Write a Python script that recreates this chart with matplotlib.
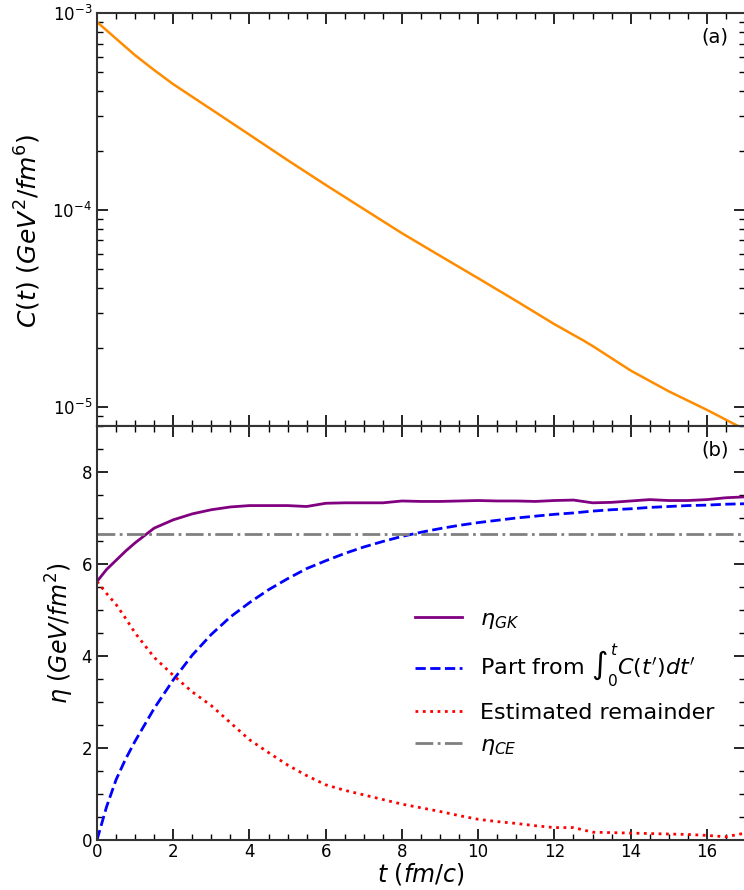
import numpy as np
import matplotlib
matplotlib.use("Agg")
from matplotlib import pyplot as plt
from matplotlib.ticker import MultipleLocator, LogLocator, NullFormatter

# correlator C(t)
t_c = [0, 0.5, 1, 1.5, 2, 3, 4, 5, 6, 7, 8, 9, 10, 11, 12, 12.75, 13, 14, 15, 16, 17]
corr = [9.0e-4, 7.41e-4, 6.1e-4, 5.13e-4, 4.35e-4, 3.24e-4, 2.41e-4, 1.79e-4,
        1.34e-4, 1.01e-4, 7.62e-5, 5.85e-5, 4.50e-5, 3.45e-5, 2.63e-5, 2.18e-5,
        2.04e-5, 1.53e-5, 1.20e-5, 9.66e-6, 7.67e-6]

# viscosity curves, panel (b)
t_eta = [0, 0.25, 0.5, 0.75, 1, 1.5, 2, 2.5, 3, 3.5, 4, 4.5, 5, 5.5, 6, 6.5, 7,
         7.5, 8, 8.5, 9, 9.5, 10, 10.5, 11, 11.5, 12, 12.5, 13, 13.5, 14, 14.5,
         15, 15.5, 16, 16.5, 17]
eta_gk = [5.62, 5.88, 6.08, 6.28, 6.46, 6.78, 6.96, 7.09, 7.18, 7.24, 7.27, 7.27,
          7.27, 7.25, 7.32, 7.33, 7.33, 7.33, 7.37, 7.36, 7.36, 7.37, 7.38, 7.37,
          7.37, 7.36, 7.38, 7.39, 7.33, 7.34, 7.37, 7.40, 7.38, 7.38, 7.40, 7.44,
          7.46]
eta_int = [0.0, 0.72, 1.31, 1.76, 2.15, 2.86, 3.48, 4.02, 4.47, 4.85, 5.16, 5.44,
           5.68, 5.90, 6.07, 6.23, 6.37, 6.49, 6.60, 6.69, 6.77, 6.84, 6.90, 6.95,
           7.00, 7.04, 7.08, 7.11, 7.15, 7.18, 7.20, 7.23, 7.25, 7.27, 7.28, 7.30,
           7.31]
eta_rem = [5.62, 5.36, 5.12, 4.82, 4.50, 3.97, 3.58, 3.22, 2.92, 2.55, 2.18, 1.90,
           1.63, 1.40, 1.20, 1.08, 0.98, 0.88, 0.78, 0.70, 0.62, 0.53, 0.45, 0.40,
           0.36, 0.31, 0.27, 0.27, 0.17, 0.16, 0.15, 0.14, 0.13, 0.12, 0.10, 0.07,
           0.15]
eta_ce = 6.66


def style_axis(ax):
    ax.tick_params(which='both', direction='in', top=True, right=True, labelsize=12)
    ax.tick_params(which='major', length=8, width=1.2)
    ax.tick_params(which='minor', length=4, width=1.0)
    for s in ax.spines.values():
        s.set_linewidth(1.5)
        s.set_color('#333333')


fig = plt.figure(figsize=(7.44, 8.9), dpi=100)
W, H = 744.0, 890.0
left, right = 97 / W, 745 / W
ax1 = fig.add_axes([left, 1 - 426 / H, right - left, (426 - 13) / H])
ax2 = fig.add_axes([left, 1 - 840 / H, right - left, (840 - 426) / H], sharex=ax1)

# panel (a)
ax1.plot(t_c, corr, color='darkorange', lw=1.8)
ax1.set_yscale('log')
ax1.set_ylim(8.0e-6, 1e-3)
ax1.set_xlim(0, 17)
ax1.yaxis.set_major_locator(LogLocator(base=10, numticks=10))
ax1.yaxis.set_minor_locator(LogLocator(base=10, subs=np.arange(2, 10), numticks=10))
ax1.yaxis.set_minor_formatter(NullFormatter())
ax1.set_ylabel(r'$C(t)\ (GeV^2/fm^6)$', fontsize=18)
ax1.yaxis.set_label_coords(-0.083, 0.472)
ax1.text(0.975, 0.965, '(a)', transform=ax1.transAxes, ha='right', va='top', fontsize=14)
style_axis(ax1)
plt.setp(ax1.get_xticklabels(), visible=False)

# panel (b)
ax2.plot(t_eta, eta_gk, color='purple', lw=2, label=r'$\eta_{GK}$')
ax2.plot(t_eta, eta_int, color='blue', lw=2, ls='--', label=r"Part from $\int_0^t C(t')dt'$")
ax2.plot(t_eta, eta_rem, color='red', lw=2, ls=':', label='Estimated remainder')
ax2.axhline(eta_ce, color='gray', lw=2, ls='-.', label=r'$\eta_{CE}$')
ax2.set_ylim(0, 9)
ax2.set_xlim(0, 17)
ax2.xaxis.set_major_locator(MultipleLocator(2))
ax2.xaxis.set_minor_locator(MultipleLocator(0.5))
ax2.yaxis.set_major_locator(MultipleLocator(2))
ax2.yaxis.set_minor_locator(MultipleLocator(0.5))
ax2.set_ylabel(r'$\eta\ (GeV/fm^2)$', fontsize=17)
ax2.set_xlabel(r'$t\ (fm/c)$', fontsize=17, labelpad=0)
ax2.text(0.975, 0.965, '(b)', transform=ax2.transAxes, ha='right', va='top', fontsize=14)
style_axis(ax2)
ax2.tick_params(axis='x', pad=2)
ax2.legend(loc='center left', bbox_to_anchor=(0.46, 0.38), frameon=False,
           fontsize=16, handlelength=2.1, labelspacing=0.55)

fig.savefig('out.png', dpi=100)
